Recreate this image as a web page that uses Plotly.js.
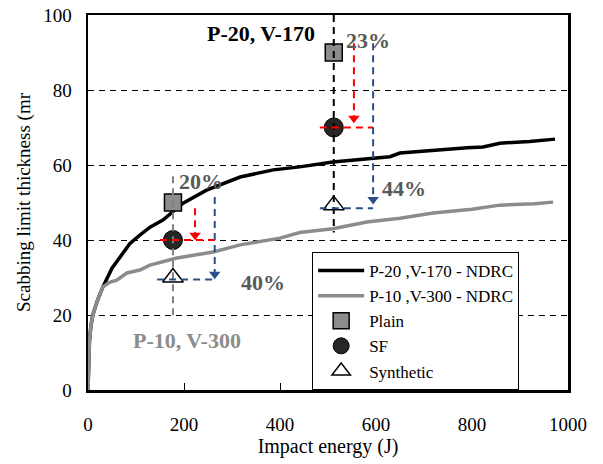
<!DOCTYPE html>
<html>
<head>
<meta charset="utf-8">
<script src="https://cdn.plot.ly/plotly-3.0.1.min.js"></script>
<style>html,body{margin:0;padding:0;background:#fff;}#chart{width:603px;height:464px;}</style>
</head>
<body>
<div id="chart"></div>
<script>
// NDRC curves
const ndrc170X = [0, 1, 3, 6, 10, 20, 31, 50, 70, 87, 108, 130, 156, 198, 247, 317, 386, 441, 510, 580, 629, 650, 720, 790, 823, 858, 920, 973];
const ndrc170Y = [0, 7, 13, 17, 20, 24, 27.5, 32.5, 36, 39, 41.3, 43.5, 45.3, 49.8, 53.3, 56.8, 58.7, 59.5, 60.8, 61.6, 62.2, 63.2, 64, 64.6, 64.8, 65.8, 66.3, 66.9];
const ndrc300X = [0, 1, 3, 6, 10, 20, 31, 45, 60, 81, 108, 129, 185, 261, 317, 400, 441, 510, 581, 650, 719, 800, 858, 930, 969];
const ndrc300Y = [0, 7, 13, 17, 20, 24, 27.5, 28.7, 29.3, 31.2, 32, 33.3, 35.2, 36.8, 38.7, 40.5, 42, 43, 44.8, 45.8, 47.2, 48.2, 49.3, 49.7, 50.1];

// Test results
const testEnergy = [177, 512];
const plainY = [50, 90];
const sfY = [40, 70];
const syntheticY = [30, 49.3];

// Reduction guides
const guideGrayX = [177, 177];   const guideGrayY = [57, 19.5];
const guideBlackX = [512, 512];  const guideBlackY = [100, 42];
const red1X = [223, 223];        const red1Y = [48.5, 41.5];
const redH1X = [150, 265];       const redH1Y = [40, 40];
const blue1X = [264, 264];       const blue1Y = [51.5, 31];
const blueH1X = [144, 264];      const blueH1Y = [29.5, 29.5];
const red2X = [554, 554];        const red2Y = [92.5, 72.5];
const redH2X = [483, 594];       const redH2Y = [70, 70];
const blue2X = [594, 594];       const blue2Y = [92.5, 51];
const blueH2X = [483, 594];      const blueH2Y = [48.5, 48.5];
const arrowX = [223, 264, 554, 594];
const arrowY = [41.3, 30.9, 72.5, 50.8];

const RED = '#ff0000', BLUE = '#2a4f86';
const FONT = '"Liberation Serif", "Times New Roman", serif';

function guide(x, y, color) {
  return {x: x, y: y, mode: 'lines', type: 'scatter', showlegend: false, hoverinfo: 'skip',
    line: {color: color, width: 2, dash: '7px,5px'}};
}

const traces = [
  {x: ndrc170X, y: ndrc170Y, mode: 'lines', type: 'scatter', name: 'P-20 ,V-170 - NDRC',
   line: {color: '#000000', width: 3.5}, legendrank: 1},
  {x: ndrc300X, y: ndrc300Y, mode: 'lines', type: 'scatter', name: 'P-10 ,V-300 - NDRC',
   line: {color: '#8c8c8c', width: 3.5}, legendrank: 2},
  {x: testEnergy, y: plainY, mode: 'markers', type: 'scatter', name: 'Plain',
   marker: {symbol: 'square', size: 17, color: '#8c8c8c', line: {color: '#000', width: 1.5}}, legendrank: 3},
  {x: testEnergy, y: sfY, mode: 'markers', type: 'scatter', name: 'SF',
   marker: {symbol: 'circle', size: 19, color: '#262626', line: {color: '#000', width: 1}}, legendrank: 4},
  {x: testEnergy, y: syntheticY, mode: 'markers', type: 'scatter', name: 'Synthetic',
   marker: {symbol: 'triangle-up', size: 18, color: '#ffffff', line: {color: '#000', width: 1.5}}, legendrank: 5},
  guide(guideGrayX, guideGrayY, '#808080'),
  guide(guideBlackX, guideBlackY, '#000000'),
  guide(red1X, red1Y, RED),
  guide(redH1X, redH1Y, RED),
  guide(blue1X, blue1Y, BLUE),
  guide(blueH1X, blueH1Y, BLUE),
  guide(red2X, red2Y, RED),
  guide(redH2X, redH2Y, RED),
  guide(blue2X, blue2Y, BLUE),
  guide(blueH2X, blueH2Y, BLUE),
  {x: arrowX, y: arrowY, mode: 'markers', type: 'scatter', showlegend: false, hoverinfo: 'skip',
   marker: {symbol: 'triangle-down', size: 10, color: [RED, BLUE, RED, BLUE]}}
];

const layout = {
  width: 603, height: 464,
  margin: {l: 88, r: 35, t: 15, b: 74},
  paper_bgcolor: '#fff', plot_bgcolor: '#fff',
  font: {family: FONT, color: '#000', size: 19},
  showlegend: true,
  legend: {x: 0.467, y: 0.0, xanchor: 'left', yanchor: 'bottom', bgcolor: '#fff',
    bordercolor: '#000', borderwidth: 1, font: {family: FONT, size: 17, color: '#000'},
    itemwidth: 46, tracegroupgap: 0},
  xaxis: {range: [0, 1000], tickvals: [0, 200, 400, 600, 800, 1000], showgrid: false, zeroline: false,
    showline: true, linecolor: '#000', linewidth: 2.5, mirror: true,
    ticks: 'inside', ticklen: 7, tickcolor: '#000', tickwidth: 1, ticklabelstandoff: 16,
    tickfont: {family: FONT, size: 19},
    title: {text: 'Impact energy (J)', font: {family: FONT, size: 20}, standoff: 5}},
  yaxis: {range: [0, 100], tickvals: [0, 20, 40, 60, 80, 100], showgrid: true, gridcolor: '#000',
    gridwidth: 1, griddash: '6px,5px', zeroline: false,
    showline: true, linecolor: '#000', linewidth: 2.5, mirror: true,
    ticks: '', ticklabelstandoff: 10, tickfont: {family: FONT, size: 19},
    title: {text: 'Scabbing limit thickness (mr', font: {family: FONT, size: 19}, standoff: 8}},
  annotations: [
    {x: 361, y: 95.2, text: '<b>P-20, V-170</b>', showarrow: false, font: {family: FONT, size: 22, color: '#000'}},
    {x: 583, y: 93.3, text: '<b>23%</b>', showarrow: false, font: {family: FONT, size: 22, color: '#595959'}},
    {x: 236, y: 55.5, text: '<b>20%</b>', showarrow: false, font: {family: FONT, size: 22, color: '#595959'}},
    {x: 658, y: 53.8, text: '<b>44%</b>', showarrow: false, font: {family: FONT, size: 22, color: '#595959'}},
    {x: 364, y: 28.6, text: '<b>40%</b>', showarrow: false, font: {family: FONT, size: 22, color: '#595959'}},
    {x: 206, y: 13.3, text: '<b>P-10, V-300</b>', showarrow: false, font: {family: FONT, size: 22, color: '#8c8c8c'}}
  ]
};

Plotly.newPlot('chart', traces, layout, {displayModeBar: false, staticPlot: true});
</script>
</body>
</html>
